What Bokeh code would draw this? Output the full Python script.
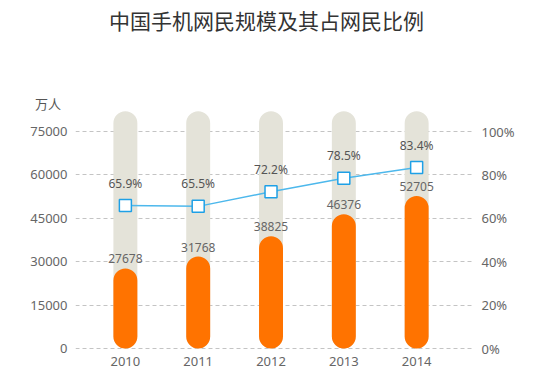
from bokeh.plotting import figure
from bokeh.models import Range1d, LinearAxis, FixedTicker, Div, ColumnDataSource, Spacer
from bokeh.layouts import column, row
from bokeh.embed import file_html
from bokeh.resources import INLINE
from bokeh.core.properties import value

# ---- data ----
years = ["2010", "2011", "2012", "2013", "2014"]
users = [27678, 31768, 38825, 46376, 52705]          # 万人
share = [65.9, 65.5, 72.2, 78.5, 83.4]               # %
left_ticks = [0, 15000, 30000, 45000, 60000, 75000]
right_ticks = [0, 20, 40, 60, 80, 100]
BG_TOP = 82000

xs = list(range(len(years)))
src = ColumnDataSource(dict(
    x=xs, users=users, share=share, bg=[BG_TOP] * len(xs),
    ulab=[str(u) for u in users], slab=[f"{s:.1f}%" for s in share],
))

NUM_FONT = "Noto Sans"
CJK_FONT = "Noto Sans CJK SC"
PAGE_BG = "#fafafa"

p = figure(width=490, height=264,
           x_range=Range1d(-0.685, 4.767), y_range=Range1d(-1382, 82258),
           output_backend="svg", toolbar_location=None,
           min_border_left=48, min_border_right=44, min_border_top=0, min_border_bottom=22,
           border_fill_color="white", background_fill_color="white",
           outline_line_color=None, margin=0)
p.extra_y_ranges = {"pct": Range1d(-1.843, 109.68)}

# axes
p.xaxis.ticker = FixedTicker(ticks=xs)
p.xaxis.major_label_overrides = {i: y for i, y in zip(xs, years)}
p.yaxis.ticker = FixedTicker(ticks=left_ticks)
right = LinearAxis(y_range_name="pct", ticker=FixedTicker(ticks=right_ticks))
right.major_label_overrides = {t: f"{t}%" for t in right_ticks}
p.add_layout(right, "right")

for ax in p.axis:
    ax.axis_line_color = None
    ax.major_tick_line_color = None
    ax.minor_tick_line_color = None
    ax.major_tick_out = 0
    ax.major_tick_in = 0
    ax.minor_tick_out = 0
    ax.minor_tick_in = 0
    ax.major_label_text_font = NUM_FONT
    ax.major_label_text_font_size = "13px"
    ax.major_label_text_color = "#666666"
p.yaxis[0].major_label_standoff = 8
right.major_label_standoff = 9
p.xaxis.major_label_standoff = 4

p.xgrid.visible = False
p.ygrid.ticker = FixedTicker(ticks=left_ticks)
p.ygrid.grid_line_color = "#c4c4c4"
p.ygrid.grid_line_dash = "4 3"
p.ygrid.grid_line_width = 1

# bars
p.vbar(x="x", bottom=0, top="bg", width=0.329, source=src,
       fill_color="#e4e3d9", line_color=None, border_radius=12)
p.vbar(x="x", bottom=0, top="users", width=0.329, source=src,
       fill_color="#ff7300", line_color=None, border_radius=12)
p.text(x="x", y="users", text="ulab", source=src, y_offset=-5,
       text_align="center", text_baseline="bottom",
       text_font=value(NUM_FONT), text_font_size="12px", text_color="#666666")

# line
p.line(x="x", y="share", source=src, y_range_name="pct",
       line_color="#4db8ec", line_width=1.5)
p.scatter(x="x", y="share", source=src, y_range_name="pct", marker="square",
          size=12, fill_color="white", line_color="#1ea0e6", line_width=1.5)
p.text(x="x", y="share", text="slab", source=src, y_range_name="pct", y_offset=-14,
       text_align="center", text_baseline="bottom",
       text_font=value(NUM_FONT), text_font_size="12px", text_color="#555555")

title = Div(text=('<div style="width:533px;text-align:center;font-size:21px;padding-top:8px;'
                  'color:#333333;font-family:\'Noto Sans CJK SC\';line-height:25px;">'
                  '中国手机网民规模及其占网民比例</div>'),
            width=533, height=97, margin=0)

unit = Div(text=('<div style="padding-left:8px;font-size:13px;line-height:13px;'
                 'color:#555555;font-family:\'Noto Sans CJK SC\';">万人</div>'),
           width=490, height=13, margin=0, styles={"background-color": "white"})

layout = column(
    title,
    row(Spacer(width=27, height=13, margin=0), unit, spacing=0),
    row(Spacer(width=27, height=264, margin=0), p, spacing=0),
    spacing=0,
)
html = file_html(layout, INLINE)
html = html.replace("<body>", f'<body style="background-color:{PAGE_BG};">', 1)
open("out.html", "w").write(html)
